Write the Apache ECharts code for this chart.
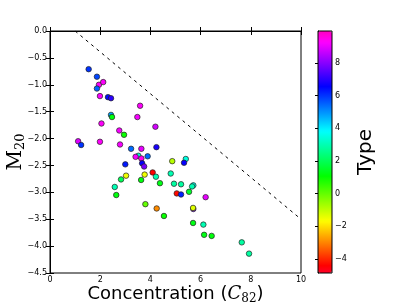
<!DOCTYPE html>
<html><head><meta charset="utf-8">
<script src="https://cdn.jsdelivr.net/npm/echarts@6/dist/echarts.min.js"></script>
<style>html,body{margin:0;padding:0;background:#fff}#c{width:407px;height:305px}</style>
</head><body><div id="c"></div>
<script>
const concentration = [1.54,1.87,1.95,2.12,1.87,1.99,2.31,2.43,3.59,2.43,2.47,3.48,2.05,4.20,2.76,2.95,1.12,1.24,1.99,2.79,3.23,3.64,4.24,3.52,3.41,3.64,3.89,3.00,3.67,3.75,4.87,4.09,4.81,3.03,3.77,4.22,2.83,3.63,4.38,4.94,2.58,5.05,2.64,3.80,4.25,4.54,5.41,5.34,5.22,5.71,5.66,5.54,5.22,6.20,5.71,5.70,5.70,6.11,6.14,6.44,7.64,7.93];
const m20 = [-0.71,-0.85,-1.00,-0.95,-1.07,-1.21,-1.23,-1.25,-1.39,-1.56,-1.60,-1.60,-1.72,-1.78,-1.85,-1.93,-2.05,-2.12,-2.06,-2.11,-2.19,-2.19,-2.16,-2.32,-2.34,-2.37,-2.33,-2.48,-2.46,-2.52,-2.42,-2.63,-2.65,-2.69,-2.67,-2.71,-2.76,-2.77,-2.83,-2.84,-2.90,-3.02,-3.05,-3.22,-3.30,-3.44,-2.38,-2.45,-2.85,-2.87,-2.89,-2.99,-3.04,-3.09,-3.31,-3.29,-3.57,-3.60,-3.79,-3.81,-3.93,-4.14];
const type = [6.0,5.8,9.3,9.3,5.5,9.2,6.4,7.0,9.3,4.8,1.2,9.2,9.3,8.8,9.2,1.0,8.9,6.0,9.3,9.2,5.4,9.0,6.8,3.2,9.2,9.5,5.4,6.3,6.6,7.8,-0.9,-4.4,3.0,-1.5,-1.5,3.0,2.0,1.2,1.3,2.8,3.0,-4.3,1.2,0.0,-2.9,1.0,3.5,6.6,2.8,3.6,3.0,1.5,6.2,9.0,7.8,-1.3,1.3,3.0,1.3,1.2,2.8,2.8];
const lineX = [1, 10];
const lineY = [0, -3.5];
const xTicks = [0, 2, 4, 6, 8, 10];
const yTickStep = 0.5;
const typeTicks = [-4, -2, 0, 2, 4, 6, 8];
const typeMin = -4.85, typeMax = 9.95;

// gist_rainbow colormap stops
const gr = [[0,[1,0,0.16]],[0.03,[1,0,0]],[0.215,[1,1,0]],[0.4,[0,1,0]],[0.586,[0,1,1]],[0.77,[0,0,1]],[0.954,[1,0,1]],[1,[1,0,0.75]]];
function cmap(t){
  for(let i=1;i<gr.length;i++){
    if(t<=gr[i][0]){
      const a=gr[i-1],b=gr[i],f=(t-a[0])/(b[0]-a[0]);
      const c=a[1].map((v,k)=>Math.round(255*(v+(b[1][k]-v)*f)));
      return 'rgb('+c.join(',')+')';
    }
  }
  return 'rgb(255,0,191)';
}
const cols=[];for(let i=0;i<=100;i++)cols.push(cmap(i/100));

const pts = concentration.map((c,i)=>[c,m20[i],type[i]]);
const minus = s => String(s).replace('-', '\u2212');
const font = 'DejaVu Sans';
const tickLbl = {fontFamily:font,fontSize:8,color:'#000'};

const chart = echarts.init(document.getElementById('c'),null,{renderer:'canvas'});
chart.setOption({
  animation:false,
  backgroundColor:'#fff',
  grid:[
    {left:50,top:31,width:251,height:242,show:true,borderColor:'#000',borderWidth:1,backgroundColor:'transparent',containLabel:false,outerBoundsMode:'none'},
    {left:318,top:31,width:14,height:242,show:true,borderColor:'#000',borderWidth:1,backgroundColor:'transparent',z:10,containLabel:false,outerBoundsMode:'none'}
  ],
  xAxis:[
    {gridIndex:0,type:'value',min:0,max:10,interval:2,position:'bottom',
     name:'{t|Concentration (}{c|C}{s|82}{t|)}',nameLocation:'middle',nameGap:10,nameMoveOverlap:false,
     nameTextStyle:{rich:{t:{fontFamily:font,fontSize:18,color:'#000'},c:{fontFamily:'DejaVu Serif',fontStyle:'italic',fontSize:18,color:'#000'},s:{fontFamily:'DejaVu Serif',fontSize:12,color:'#000',padding:[10,0,0,0]}}},
     axisLine:{show:true,lineStyle:{color:'#000'}},axisTick:{inside:true,length:4,lineStyle:{color:'#000'}},
     axisLabel:Object.assign({margin:3,formatter:v=>minus(v)},tickLbl),splitLine:{show:false}},
    {gridIndex:0,type:'value',min:0,max:10,interval:2,position:'top',
     axisLine:{show:true,lineStyle:{color:'#000'}},axisTick:{inside:true,length:4,lineStyle:{color:'#000'}},
     axisLabel:{show:false},splitLine:{show:false}},
    {gridIndex:1,type:'value',min:0,max:1,show:false}
  ],
  yAxis:[
    {gridIndex:0,type:'value',min:-4.5,max:0,interval:yTickStep,position:'left',
     name:'{m|M}{s|20}',nameLocation:'middle',nameGap:23,nameRotate:90,nameMoveOverlap:false,
     nameTextStyle:{rich:{m:{fontFamily:'DejaVu Serif',fontSize:20,color:'#000'},s:{fontFamily:'DejaVu Serif',fontSize:13,color:'#000',padding:[9,0,0,0]}}},
     axisLine:{show:true,lineStyle:{color:'#000'}},axisTick:{inside:true,length:4,lineStyle:{color:'#000'}},
     axisLabel:Object.assign({margin:3,formatter:v=>minus(v.toFixed(1))},tickLbl),splitLine:{show:false}},
    {gridIndex:0,type:'value',min:-4.5,max:0,interval:yTickStep,position:'right',
     axisLine:{show:true,lineStyle:{color:'#000'}},axisTick:{inside:true,length:4,lineStyle:{color:'#000'}},
     axisLabel:{show:false},splitLine:{show:false}},
    {gridIndex:1,type:'value',min:typeMin,max:typeMax,position:'right',
     name:'Type',nameLocation:'middle',nameGap:24,nameRotate:90,nameMoveOverlap:false,
     nameTextStyle:{fontFamily:font,fontSize:20,color:'#000'},
     axisLine:{show:true,lineStyle:{color:'#000'}},
     axisTick:{inside:true,length:3,customValues:typeTicks,lineStyle:{color:'#000'}},
     axisLabel:Object.assign({margin:3,customValues:typeTicks,formatter:v=>minus(v)},tickLbl),splitLine:{show:false}}
  ],
  visualMap:{type:'continuous',min:typeMin,max:typeMax,dimension:2,seriesIndex:0,
    left:318,top:31,itemWidth:14,itemHeight:242,padding:0,calculable:false,text:null,
    inRange:{color:cols},hoverLink:false},
  series:[
    {type:'scatter',xAxisIndex:0,yAxisIndex:0,data:pts,symbolSize:5.5,
     itemStyle:{borderColor:'#222',borderWidth:0.7,opacity:1}},
    {type:'line',xAxisIndex:0,yAxisIndex:0,data:lineX.map((x,i)=>[x,lineY[i]]),symbol:'none',
     lineStyle:{color:'#000',width:1,type:[3,4]},silent:true,z:1}
  ]
});
</script></body></html>
